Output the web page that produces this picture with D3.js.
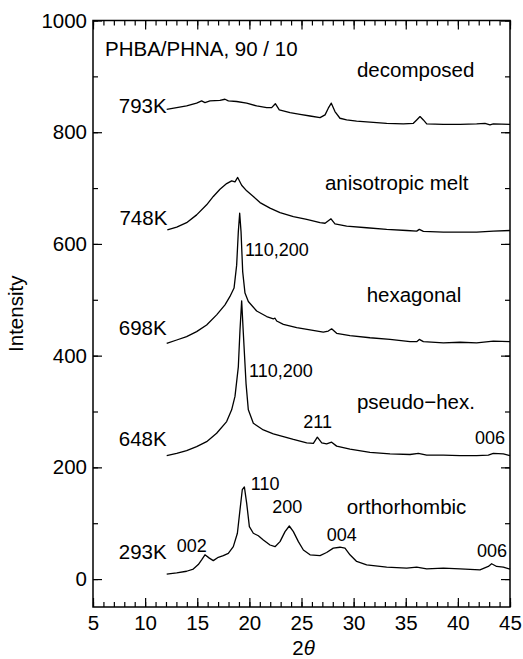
<!DOCTYPE html>
<html>
<head>
<meta charset="utf-8">
<script src="https://cdn.jsdelivr.net/npm/d3@7"></script>
<style>
  html, body { margin: 0; padding: 0; background: #fff; }
  svg { display: block; }
  text { font-family: "Liberation Sans", Arial, Helvetica, sans-serif; fill: #000; }
</style>
</head>
<body>
<svg id="chart" width="523" height="659"></svg>
<script>
// X-ray diffraction scans of PHBA/PHNA (90/10) at several temperatures.
// Each scan is a list of [2θ (deg), intensity] readings, already offset vertically.
const scan793K = [
  [12.07, 841], [13.03, 844], [13.98, 847], [14.94, 852], [15.42, 856], [15.74, 853],
  [16.22, 856], [17.18, 857], [17.66, 859], [17.98, 856], [18.78, 855], [19.74, 852],
  [20.70, 847], [21.66, 844], [22.14, 844], [22.49, 851], [22.87, 840], [23.90, 835],
  [24.86, 832], [25.82, 829], [26.78, 826], [27.26, 831], [27.57, 843], [27.86, 852],
  [28.21, 837], [28.69, 825], [29.33, 822], [30.29, 820], [31.57, 818], [33.17, 816],
  [34.77, 815], [35.73, 816], [36.05, 822], [36.37, 828], [36.69, 822], [37.01, 815],
  [38.61, 814], [40.21, 814], [41.80, 815], [42.60, 816], [43.08, 813], [43.40, 815],
  [45.00, 814]
];
const scan748K = [
  [12.13, 625], [13.03, 630], [13.98, 638], [14.94, 652], [15.90, 670], [16.54, 685],
  [17.18, 698], [17.82, 708], [18.30, 713], [18.62, 711], [18.88, 719], [19.26, 705],
  [19.74, 695], [20.38, 685], [21.02, 674], [21.98, 664], [22.94, 656], [24.22, 649],
  [25.50, 644], [26.78, 638], [27.26, 637], [27.83, 645], [28.21, 636], [29.33, 632],
  [31.25, 629], [33.17, 626], [35.09, 624], [36.05, 623], [36.30, 626], [36.69, 622.5],
  [38.61, 621], [40.21, 621], [41.80, 621], [43.40, 623], [45.00, 624]
];
const scan698K = [
  [12.07, 422], [13.03, 428], [13.98, 434], [14.94, 443], [15.90, 455], [16.86, 473],
  [17.66, 491], [18.14, 506], [18.53, 521], [18.78, 562], [18.94, 622], [19.07, 655],
  [19.20, 622], [19.36, 550], [19.58, 512], [19.90, 497], [20.70, 480], [21.66, 470],
  [22.30, 466], [22.46, 467], [22.62, 462], [23.26, 456], [24.54, 450], [25.82, 446],
  [27.09, 442], [27.57, 444], [27.89, 448], [28.37, 440], [29.65, 436], [31.57, 432],
  [33.49, 429], [35.41, 425], [36.05, 425], [36.30, 429], [36.69, 425], [38.61, 423],
  [40.21, 424], [41.80, 423], [43.40, 426], [45.00, 425]
];
const scan648K = [
  [12.07, 221], [13.03, 225], [13.98, 230], [14.94, 237], [15.90, 246], [16.86, 261],
  [17.82, 282], [18.30, 303], [18.62, 327], [18.94, 380], [19.10, 446], [19.26, 498],
  [19.42, 440], [19.68, 350], [19.90, 303], [20.38, 279], [21.34, 267], [22.30, 260],
  [23.26, 255], [24.22, 250], [25.50, 244], [26.14, 243], [26.52, 254], [26.94, 244],
  [27.41, 242], [27.89, 245], [28.37, 238], [29.65, 232.5], [31.57, 227], [33.49, 224],
  [35.41, 223], [36.21, 225], [37.01, 222], [38.61, 222], [40.21, 221], [41.80, 221],
  [42.92, 222], [43.40, 225], [44.36, 224], [45.00, 221]
];
const scan293K = [
  [12.07, 9], [13.03, 11], [13.98, 14], [14.62, 18], [15.10, 26], [15.42, 34.5],
  [15.74, 43.5], [16.16, 37.5], [16.54, 33], [17.02, 39], [17.50, 42], [17.98, 46],
  [18.46, 58], [18.85, 82], [19.10, 124], [19.32, 160], [19.52, 165], [19.74, 136],
  [20.00, 94], [20.38, 82], [20.86, 77.5], [21.34, 70], [21.98, 61], [22.46, 58],
  [22.94, 67], [23.42, 85], [23.83, 95], [24.22, 85], [24.70, 67], [25.18, 52],
  [25.82, 43.5], [26.78, 42], [27.41, 47.6], [28.05, 55.4], [28.69, 57], [29.17, 55.4],
  [29.65, 43.5], [30.29, 31.5], [31.25, 25.6], [33.17, 21.4], [35.09, 19.6], [36.05, 21.4],
  [37.01, 18.4], [38.61, 19.6], [40.21, 18.4], [42.12, 16.6], [42.92, 22.6], [43.24, 27.4],
  [43.72, 22.6], [44.36, 21.4], [45.00, 17.8]
];
const scans = [scan793K, scan748K, scan698K, scan648K, scan293K];

// Temperature of each scan, written at its left end.
const temperatures = ["793K", "748K", "698K", "648K", "293K"];
const temperatureBaselines = [835, 634, 437, 238.5, 36];

// Axis ticks
const xMajorTicks = [5, 10, 15, 20, 25, 30, 35, 40, 45];
const yMajorTicks = [0, 200, 400, 600, 800, 1000];

// Phase names and reflection indices: [text, 2θ, intensity, size]
const annotations = [
  ["PHBA/PHNA, 90 / 10", 6.15, 936, "big"],
  ["decomposed", 30.32, 898.6, "big"],
  ["anisotropic melt", 27.25, 696.4, "big"],
  ["110,200", 19.58, 578.4, "small"],
  ["hexagonal", 31.25, 496.1, "big"],
  ["110,200", 19.96, 362.4, "small"],
  ["pseudo\u2212hex.", 30.32, 304.7, "big"],
  ["211", 25.17, 271.2, "small"],
  ["006", 41.64, 242.0, "small"],
  ["110", 20.13, 159.7, "small"],
  ["200", 22.2, 118.1, "small"],
  ["orthorhombic", 29.34, 116.3, "big"],
  ["004", 27.42, 67.3, "small"],
  ["006", 41.83, 39.9, "small"],
  ["002", 13.03, 47.6, "small"]
];

const svg = d3.select("#chart");
const plotLeft = 93, plotRight = 510, plotTop = 20.5, plotBottom = 607;

const x = d3.scaleLinear().domain([5, 45]).range([plotLeft, plotRight]);
const y = d3.scaleLinear().domain([-50, 1000]).range([plotBottom, plotTop]);

const bigFont = 20.5, smallFont = 18;

// Axes: ticks point into the plot on all four sides
function styleAxis(g) {
  g.select(".domain").remove();
  g.selectAll(".tick line").attr("stroke", "#000").attr("stroke-width", 1.2);
  g.selectAll(".tick text").attr("font-size", bigFont)
    .attr("font-family", "'Liberation Sans', Arial, Helvetica, sans-serif").attr("fill", "#000");
}

const xMinor = d3.range(5, 46, 1);
const yMinor = d3.range(0, 1001, 100);

// bottom
svg.append("g").attr("transform", `translate(0,${plotBottom})`)
  .call(d3.axisBottom(x).tickValues(xMinor).tickSize(-5).tickFormat(""))
  .call(styleAxis);
svg.append("g").attr("transform", `translate(0,${plotBottom})`)
  .call(d3.axisBottom(x).tickValues(xMajorTicks).tickSize(-9).tickPadding(8).tickFormat(d3.format("d")))
  .call(styleAxis);
// top
svg.append("g").attr("transform", `translate(0,${plotTop})`)
  .call(d3.axisTop(x).tickValues(xMinor).tickSize(-5).tickFormat(""))
  .call(styleAxis);
svg.append("g").attr("transform", `translate(0,${plotTop})`)
  .call(d3.axisTop(x).tickValues(xMajorTicks).tickSize(-9).tickFormat(""))
  .call(styleAxis);
// left
svg.append("g").attr("transform", `translate(${plotLeft},0)`)
  .call(d3.axisLeft(y).tickValues(yMinor).tickSize(-5).tickFormat(""))
  .call(styleAxis);
svg.append("g").attr("transform", `translate(${plotLeft},0)`)
  .call(d3.axisLeft(y).tickValues(yMajorTicks).tickSize(-9).tickPadding(6).tickFormat(d3.format("d")))
  .call(styleAxis);
// right
svg.append("g").attr("transform", `translate(${plotRight},0)`)
  .call(d3.axisRight(y).tickValues(yMinor).tickSize(-5).tickFormat(""))
  .call(styleAxis);
svg.append("g").attr("transform", `translate(${plotRight},0)`)
  .call(d3.axisRight(y).tickValues(yMajorTicks).tickSize(-9).tickFormat(""))
  .call(styleAxis);

// frame
svg.append("rect")
  .attr("x", plotLeft).attr("y", plotTop)
  .attr("width", plotRight - plotLeft).attr("height", plotBottom - plotTop)
  .attr("fill", "none").attr("stroke", "#000").attr("stroke-width", 1.5);

// axis titles
svg.append("text")
  .attr("transform", `translate(23,${(plotTop + plotBottom) / 2}) rotate(-90)`)
  .attr("text-anchor", "middle")
  .attr("font-size", bigFont)
  .text("Intensity");

svg.append("text")
  .attr("x", (plotLeft + plotRight) / 2 + 2).attr("y", 655)
  .attr("text-anchor", "middle")
  .attr("font-size", bigFont)
  .html('2<tspan font-style="italic">θ</tspan>');

// scans
const line = d3.line().x(d => x(d[0])).y(d => y(d[1]));
svg.append("g").selectAll("path").data(scans).join("path")
  .attr("d", line)
  .attr("fill", "none")
  .attr("stroke", "#000")
  .attr("stroke-width", 1.3)
  .attr("stroke-linejoin", "round");

// temperature labels
svg.append("g").selectAll("text").data(temperatures).join("text")
  .attr("x", (d, i) => x(scans[i][0][0]))
  .attr("y", (d, i) => y(temperatureBaselines[i]))
  .attr("text-anchor", "end")
  .attr("font-size", bigFont)
  .text(d => d);

// phase and reflection labels
svg.append("g").selectAll("text").data(annotations).join("text")
  .attr("x", d => x(d[1]))
  .attr("y", d => y(d[2]))
  .attr("font-size", d => d[3] === "big" ? bigFont : smallFont)
  .text(d => d[0]);
</script>
</body>
</html>
